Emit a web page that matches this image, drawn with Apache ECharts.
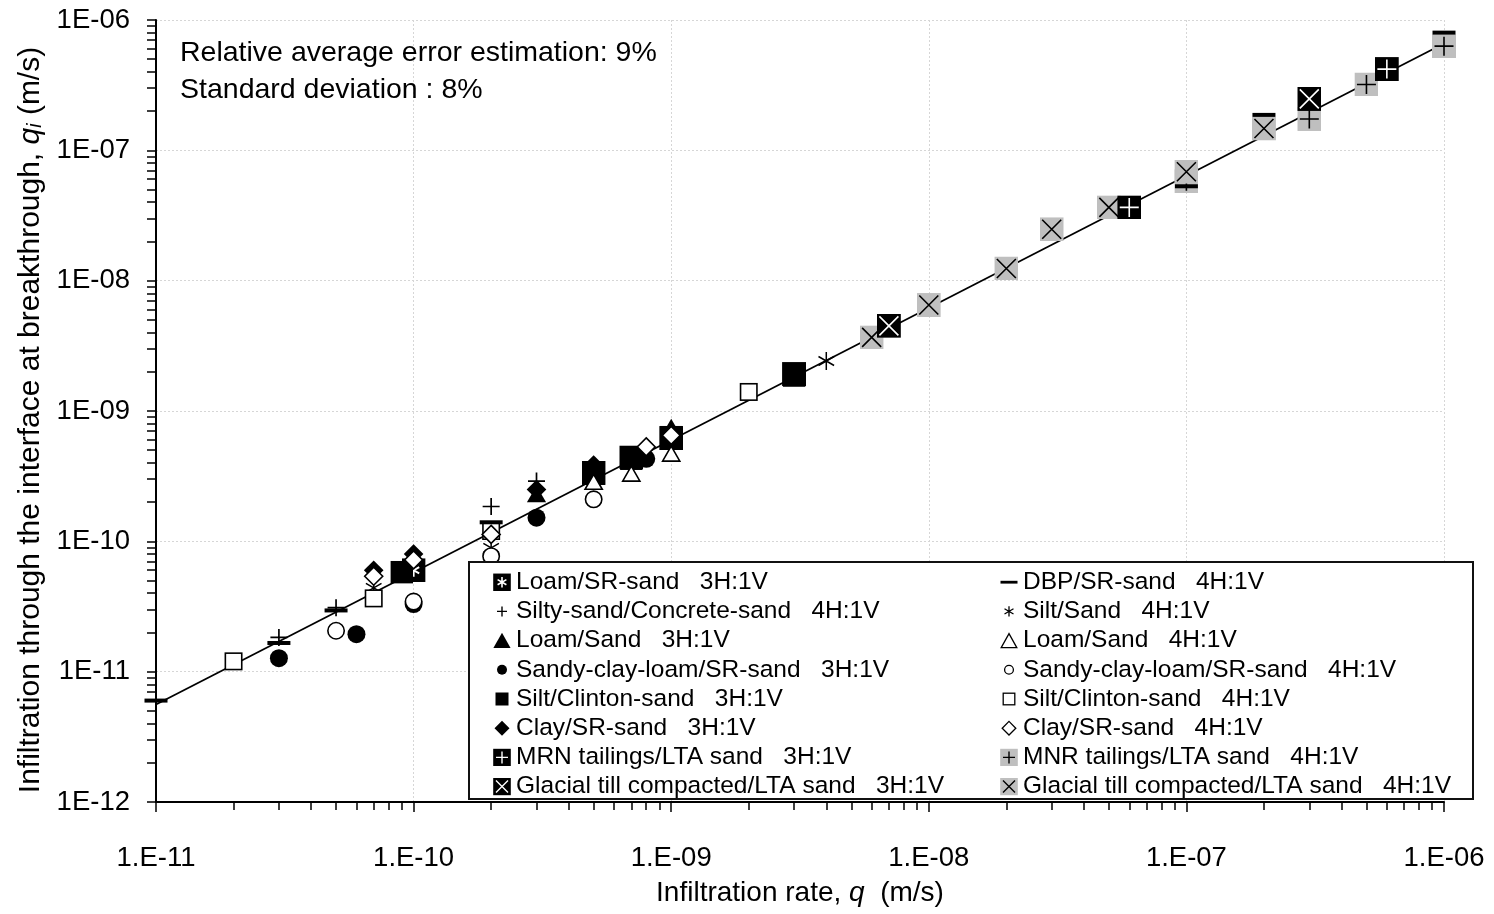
<!DOCTYPE html>
<html>
<head>
<meta charset="utf-8">
<title>Infiltration at breakthrough vs infiltration rate</title>
<script src="https://cdn.jsdelivr.net/npm/echarts@6/dist/echarts.min.js"></script>
<style>
  html, body { margin: 0; padding: 0; background: #fff; }
  #chart { width: 1494px; height: 914px; }
</style>
</head>
<body>
<div id="chart"></div>
<script>
// Measured pairs [q, qi] (m/s) for each interface and slope configuration
const loamSRSand3H        = [[1e-10, 6.0e-11], [5e-10, 3.35e-10], [7e-10, 4.4e-10], [1e-9, 6.2e-10], [3e-9, 1.92e-9]];
const siltySandConcrete4H = [[3e-11, 1.83e-11], [5e-11, 3.1e-11], [2e-10, 1.85e-10], [3e-10, 2.9e-10]];
const loamSand3H          = [[3e-10, 2.3e-10], [1e-9, 7.5e-10]];
const sandyClayLoam3H     = [[3e-11, 1.27e-11], [6e-11, 1.94e-11], [1e-10, 3.3e-11], [3e-10, 1.52e-10], [8e-10, 4.3e-10]];
const siltClinton3H       = [[9e-11, 5.8e-11], [5e-10, 3.3e-10], [7e-10, 4.3e-10], [1e-9, 6.3e-10], [3e-9, 1.87e-9]];
const claySRSand3H        = [[7e-11, 6.0e-11], [1e-10, 8.0e-11], [3e-10, 2.5e-10], [5e-10, 3.85e-10]];
const mrnTailings3H       = [[6e-8, 3.65e-8], [6e-7, 4.2e-7]];
const glacialTill3H       = [[7e-9, 4.5e-9], [3e-7, 2.48e-7]];

const dbpSRSand4H         = [[1e-11, 6.0e-12], [3e-11, 1.66e-11], [5e-11, 2.95e-11], [2e-10, 1.4e-10], [1e-7, 5.3e-8], [2e-7, 1.87e-7], [1e-6, 8.0e-7]];
const siltSand4H          = [[7e-11, 4.4e-11], [2e-10, 8.9e-11], [4e-9, 2.42e-9]];
const loamSand4H          = [[5e-10, 2.86e-10], [7e-10, 3.3e-10], [1e-9, 4.7e-10]];
const sandyClayLoam4H     = [[5e-11, 2.06e-11], [1e-10, 3.45e-11], [2e-10, 7.7e-11], [5e-10, 2.1e-10]];
const siltClinton4H       = [[2e-11, 1.2e-11], [7e-11, 3.65e-11], [2e-10, 1.2e-10], [2e-9, 1.4e-9]];
const claySRSand4H        = [[7e-11, 5.4e-11], [1e-10, 7.2e-11], [2e-10, 1.13e-10], [8e-10, 5.3e-10], [1e-9, 6.5e-10]];
const mnrTailings4H       = [[1e-7, 5.8e-8], [3e-7, 1.74e-7], [5e-7, 3.2e-7], [1e-6, 6.3e-7]];
const glacialTill4H       = [[6e-9, 3.67e-9], [1e-8, 6.5e-9], [2e-8, 1.24e-8], [3e-8, 2.48e-8], [5e-8, 3.65e-8], [1e-7, 6.85e-8], [2e-7, 1.47e-7]];

// Power-law fit through all tests
const fitLine = [[1e-11, 5.6e-12], [1e-6, 6.6e-7]];

// Decade tick labels
const xDecades = [-11, -10, -9, -8, -7, -6];
const xTickLabels = ['1.E-11', '1.E-10', '1.E-09', '1.E-08', '1.E-07', '1.E-06'];
const yDecades = [-12, -11, -10, -9, -8, -7, -6];
const yTickLabels = ['1E-12', '1E-11', '1E-10', '1E-09', '1E-08', '1E-07', '1E-06'];

const FONT = '"Liberation Sans", Arial, sans-serif';
const GRAY = '#bfbfbf';

// Minor tick positions (2..9 within each decade), in exponent units
function minorTicks(lo, hi) {
  const out = [];
  for (let e = lo; e < hi; e++) for (let k = 2; k <= 9; k++) out.push(e + Math.log10(k));
  return out;
}

function svgImage(size, body) {
  const svg = '<svg xmlns="http://www.w3.org/2000/svg" width="' + size + '" height="' + size +
    '" viewBox="0 0 ' + size + ' ' + size + '">' + body + '</svg>';
  return 'image://data:image/svg+xml;charset=utf-8,' + encodeURIComponent(svg);
}

// Marker artwork: plot version on a 24 px box, legend version on an 18 px box
const markers = {
  boxAsterisk: {
    plot: '<rect width="24" height="24" fill="#000"/><path d="M12 5.5V18.5M6.4 8.8L17.6 15.2M17.6 8.8L6.4 15.2" stroke="#fff" stroke-width="2" fill="none"/>',
    legend: '<rect x="0.2" y="0.2" width="17.6" height="17.6" fill="#000"/><path d="M9 3.8V14.2M4.6 6.4L13.4 11.6M13.4 6.4L4.6 11.6" stroke="#fff" stroke-width="1.6" fill="none"/>'
  },
  dash: {
    plot: '<rect x="0.5" y="10" width="23" height="4" fill="#000"/>',
    legend: '<rect x="0.5" y="7.6" width="17" height="2.8" fill="#000"/>'
  },
  plus: {
    plot: '<path d="M12 3.5V20.5M3.5 12H20.5" stroke="#000" stroke-width="1.7" fill="none"/>',
    legend: '<path d="M9 4V14M4 9H14" stroke="#000" stroke-width="1.4" fill="none"/>'
  },
  asterisk: {
    plot: '<path d="M12 3V21M4.2 7.5L19.8 16.5M19.8 7.5L4.2 16.5" stroke="#000" stroke-width="1.5" fill="none"/>',
    legend: '<path d="M9 3.8V14.2M4.5 6.4L13.5 11.6M13.5 6.4L4.5 11.6" stroke="#000" stroke-width="1.3" fill="none"/>'
  },
  triFill: {
    plot: '<path d="M12 3.5L21.6 20H2.4Z" fill="#000"/>',
    legend: '<path d="M9 1.2L17.6 16.5H0.4Z" fill="#000"/>'
  },
  triOpen: {
    plot: '<path d="M12 4.4L20.6 19.4H3.4Z" fill="#fff" stroke="#000" stroke-width="1.6"/>',
    legend: '<path d="M9 2L16.8 16H1.2Z" fill="#fff" stroke="#000" stroke-width="1.3"/>'
  },
  circFill: {
    plot: '<circle cx="12" cy="12" r="9" fill="#000"/>',
    legend: '<circle cx="9" cy="9" r="5" fill="#000"/>'
  },
  circOpen: {
    plot: '<circle cx="12" cy="12" r="8.2" fill="#fff" stroke="#000" stroke-width="1.6"/>',
    legend: '<circle cx="9" cy="9" r="4.4" fill="#fff" stroke="#000" stroke-width="1.3"/>'
  },
  sqFill: {
    plot: '<rect x="0.8" y="0.8" width="22.4" height="22.4" fill="#000"/>',
    legend: '<rect x="2.5" y="2.5" width="13" height="13" fill="#000"/>'
  },
  sqOpen: {
    plot: '<rect x="3.8" y="3.8" width="16.4" height="16.4" fill="#fff" stroke="#000" stroke-width="1.6"/>',
    legend: '<rect x="3.2" y="3.2" width="11.6" height="11.6" fill="#fff" stroke="#000" stroke-width="1.3"/>'
  },
  diaFill: {
    plot: '<path d="M12 2.2L21.8 12L12 21.8L2.2 12Z" fill="#000"/>',
    legend: '<path d="M9 1.5L16.5 9L9 16.5L1.5 9Z" fill="#000"/>'
  },
  diaOpen: {
    plot: '<path d="M12 3L21 12L12 21L3 12Z" fill="#fff" stroke="#000" stroke-width="1.6"/>',
    legend: '<path d="M9 2.2L15.8 9L9 15.8L2.2 9Z" fill="#fff" stroke="#000" stroke-width="1.3"/>'
  },
  boxPlusBlack: {
    plot: '<rect width="24" height="24" fill="#000"/><path d="M12 2.5V21.5M2.5 12H21.5" stroke="#fff" stroke-width="1.6" fill="none"/>',
    legend: '<rect x="0.2" y="0.2" width="17.6" height="17.6" fill="#000"/><path d="M9 3V15M3 9H15" stroke="#fff" stroke-width="1.4" fill="none"/>'
  },
  boxPlusGray: {
    plot: '<rect width="24" height="24" fill="' + GRAY + '"/><path d="M12 2.5V21.5M2.5 12H21.5" stroke="#000" stroke-width="1.6" fill="none"/>',
    legend: '<rect x="0.2" y="0.2" width="17.6" height="17.6" fill="' + GRAY + '"/><path d="M9 3V15M3 9H15" stroke="#000" stroke-width="1.4" fill="none"/>'
  },
  boxXBlack: {
    plot: '<rect width="24" height="24" fill="#000"/><path d="M2.5 2.5L21.5 21.5M21.5 2.5L2.5 21.5" stroke="#fff" stroke-width="1.6" fill="none"/>',
    legend: '<rect x="0.2" y="0.2" width="17.6" height="17.6" fill="#000"/><path d="M3 3L15 15M15 3L3 15" stroke="#fff" stroke-width="1.4" fill="none"/>'
  },
  boxXGray: {
    plot: '<rect width="24" height="24" fill="' + GRAY + '"/><path d="M2.5 2.5L21.5 21.5M21.5 2.5L2.5 21.5" stroke="#000" stroke-width="1.6" fill="none"/>',
    legend: '<rect x="0.2" y="0.2" width="17.6" height="17.6" fill="' + GRAY + '"/><path d="M3 3L15 15M15 3L3 15" stroke="#000" stroke-width="1.4" fill="none"/>'
  }
};

// Series definitions (array order = drawing order)
const seriesDefs = [
  { name: 'Loam/SR-sand   3H:1V', data: loamSRSand3H, marker: 'boxAsterisk' },
  { name: 'Silty-sand/Concrete-sand   4H:1V', data: siltySandConcrete4H, marker: 'plus' },
  { name: 'Loam/Sand   3H:1V', data: loamSand3H, marker: 'triFill' },
  { name: 'Sandy-clay-loam/SR-sand   3H:1V', data: sandyClayLoam3H, marker: 'circFill' },
  { name: 'Clay/SR-sand   3H:1V', data: claySRSand3H, marker: 'diaFill' },
  { name: 'Silt/Clinton-sand   3H:1V', data: siltClinton3H, marker: 'sqFill' },
  { name: 'Silt/Sand   4H:1V', data: siltSand4H, marker: 'asterisk' },
  { name: 'Loam/Sand   4H:1V', data: loamSand4H, marker: 'triOpen' },
  { name: 'Sandy-clay-loam/SR-sand   4H:1V', data: sandyClayLoam4H, marker: 'circOpen' },
  { name: 'Silt/Clinton-sand   4H:1V', data: siltClinton4H, marker: 'sqOpen' },
  { name: 'Clay/SR-sand   4H:1V', data: claySRSand4H, marker: 'diaOpen' },
  { name: 'MNR tailings/LTA sand   4H:1V', data: mnrTailings4H, marker: 'boxPlusGray' },
  { name: 'Glacial till compacted/LTA sand   4H:1V', data: glacialTill4H, marker: 'boxXGray' },
  { name: 'MRN tailings/LTA sand   3H:1V', data: mrnTailings3H, marker: 'boxPlusBlack' },
  { name: 'Glacial till compacted/LTA sand   3H:1V', data: glacialTill3H, marker: 'boxXBlack' },
  { name: 'DBP/SR-sand   4H:1V', data: dbpSRSand4H, marker: 'dash' }
];

const legendLeft = [
  'Loam/SR-sand   3H:1V', 'Silty-sand/Concrete-sand   4H:1V', 'Loam/Sand   3H:1V',
  'Sandy-clay-loam/SR-sand   3H:1V', 'Silt/Clinton-sand   3H:1V', 'Clay/SR-sand   3H:1V',
  'MRN tailings/LTA sand   3H:1V', 'Glacial till compacted/LTA sand   3H:1V'
];
const legendRight = [
  'DBP/SR-sand   4H:1V', 'Silt/Sand   4H:1V', 'Loam/Sand   4H:1V',
  'Sandy-clay-loam/SR-sand   4H:1V', 'Silt/Clinton-sand   4H:1V', 'Clay/SR-sand   4H:1V',
  'MNR tailings/LTA sand   4H:1V', 'Glacial till compacted/LTA sand   4H:1V'
];

const markerOf = {};
seriesDefs.forEach(d => { markerOf[d.name] = d.marker; });
const legendItems = names => names.map(n => ({
  name: n,
  icon: svgImage(18, markers[markerOf[n]].legend),
  itemStyle: { opacity: 1 }
}));

function decadeLabel(value, decades, labels) {
  const e = Math.round(Math.log10(value));
  const i = decades.indexOf(e);
  return i >= 0 ? labels[i] : '';
}

const legendBase = {
  orient: 'vertical',
  top: 569.7,
  padding: 0,
  itemWidth: 18,
  itemHeight: 18,
  itemGap: 4.2,
  selectedMode: false,
  z: 5,
  itemStyle: { opacity: 1 },
  textStyle: { fontSize: 24.5, lineHeight: 24, color: '#000', fontFamily: FONT }
};

const option = {
  animation: false,
  backgroundColor: '#fff',
  textStyle: { fontFamily: FONT },
  grid: { left: 156, right: 50, top: 20, bottom: 112, containLabel: false },
  xAxis: [
    {
      type: 'log', logBase: 10, min: 1e-11, max: 1e-6,
      name: 'Infiltration rate, {q|q}  (m/s)',
      nameLocation: 'middle', nameGap: 77,
      nameTextStyle: {
        fontSize: 28, color: '#000', fontFamily: FONT,
        rich: { q: { fontSize: 28, fontStyle: 'italic', color: '#000', fontFamily: FONT } }
      },
      axisLine: { onZero: false, lineStyle: { color: '#000', width: 2 } },
      axisTick: { show: true, length: 10, lineStyle: { color: '#000', width: 1.5 } },
      axisLabel: {
        margin: 42, fontSize: 27.5, color: '#000', fontFamily: FONT,
        formatter: v => decadeLabel(v, xDecades, xTickLabels)
      },
      splitLine: { show: true, lineStyle: { color: '#d6d6d6', width: 1, type: [2, 2] } }
    },
    {
      type: 'value', min: -11, max: -6, position: 'bottom',
      axisLine: { show: false, onZero: false },
      axisLabel: { show: false },
      splitLine: { show: false },
      axisTick: { show: true, length: 8, customValues: minorTicks(-11, -6), lineStyle: { color: '#000', width: 1.5 } }
    }
  ],
  yAxis: [
    {
      type: 'log', logBase: 10, min: 1e-12, max: 1e-6,
      name: 'Infiltration through the interface at breakthrough, {q|q}{i|i} (m/s)',
      nameLocation: 'middle', nameGap: 105, nameRotate: 90,
      nameTextStyle: {
        fontSize: 30, color: '#000', fontFamily: FONT,
        padding: [0, 18, 0, 0],
        rich: {
          q: { fontSize: 30, fontStyle: 'italic', color: '#000', fontFamily: FONT },
          i: { fontSize: 19.5, fontStyle: 'italic', color: '#000', fontFamily: FONT, verticalAlign: 'bottom' }
        }
      },
      axisLine: { onZero: false, lineStyle: { color: '#000', width: 2 } },
      axisTick: { show: true, length: 9, lineStyle: { color: '#000', width: 1.5 } },
      axisLabel: {
        margin: 26, fontSize: 27.5, color: '#000', fontFamily: FONT,
        formatter: v => decadeLabel(v, yDecades, yTickLabels)
      },
      splitLine: { show: true, lineStyle: { color: '#d6d6d6', width: 1, type: [2, 2] } }
    },
    {
      type: 'value', min: -12, max: -6, position: 'left',
      axisLine: { show: false, onZero: false },
      axisLabel: { show: false },
      splitLine: { show: false },
      axisTick: { show: true, length: 9, customValues: minorTicks(-12, -6), lineStyle: { color: '#000', width: 1.5 } }
    }
  ],
  legend: [
    Object.assign({}, legendBase, { left: 493, data: legendItems(legendLeft) }),
    Object.assign({}, legendBase, { left: 1000, data: legendItems(legendRight) })
  ],
  graphic: [
    {
      type: 'rect', z: 4,
      shape: { x: 469, y: 562, width: 1004, height: 237 },
      style: { fill: '#fff', stroke: '#111', lineWidth: 2 }
    },
    {
      type: 'text', left: 180, top: 39, z: 4,
      style: { text: 'Relative average error estimation: 9%', font: '28.5px ' + FONT, fill: '#000' }
    },
    {
      type: 'text', left: 180, top: 76, z: 4,
      style: { text: 'Standard deviation : 8%', font: '28.5px ' + FONT, fill: '#000' }
    }
  ],
  series: [
    {
      type: 'line', name: 'fit', data: fitLine, xAxisIndex: 0, yAxisIndex: 0,
      showSymbol: false, silent: true, z: 1,
      lineStyle: { color: '#000', width: 1.8 }
    }
  ].concat(seriesDefs.map(d => ({
    type: 'scatter',
    name: d.name,
    data: d.data,
    xAxisIndex: 0, yAxisIndex: 0,
    symbol: svgImage(24, markers[d.marker].plot),
    symbolSize: 24,
    itemStyle: { opacity: 1 },
    silent: true,
    z: 2
  })))
};

const chart = echarts.init(document.getElementById('chart'), null, { renderer: 'canvas' });
chart.setOption(option);
</script>
</body>
</html>
